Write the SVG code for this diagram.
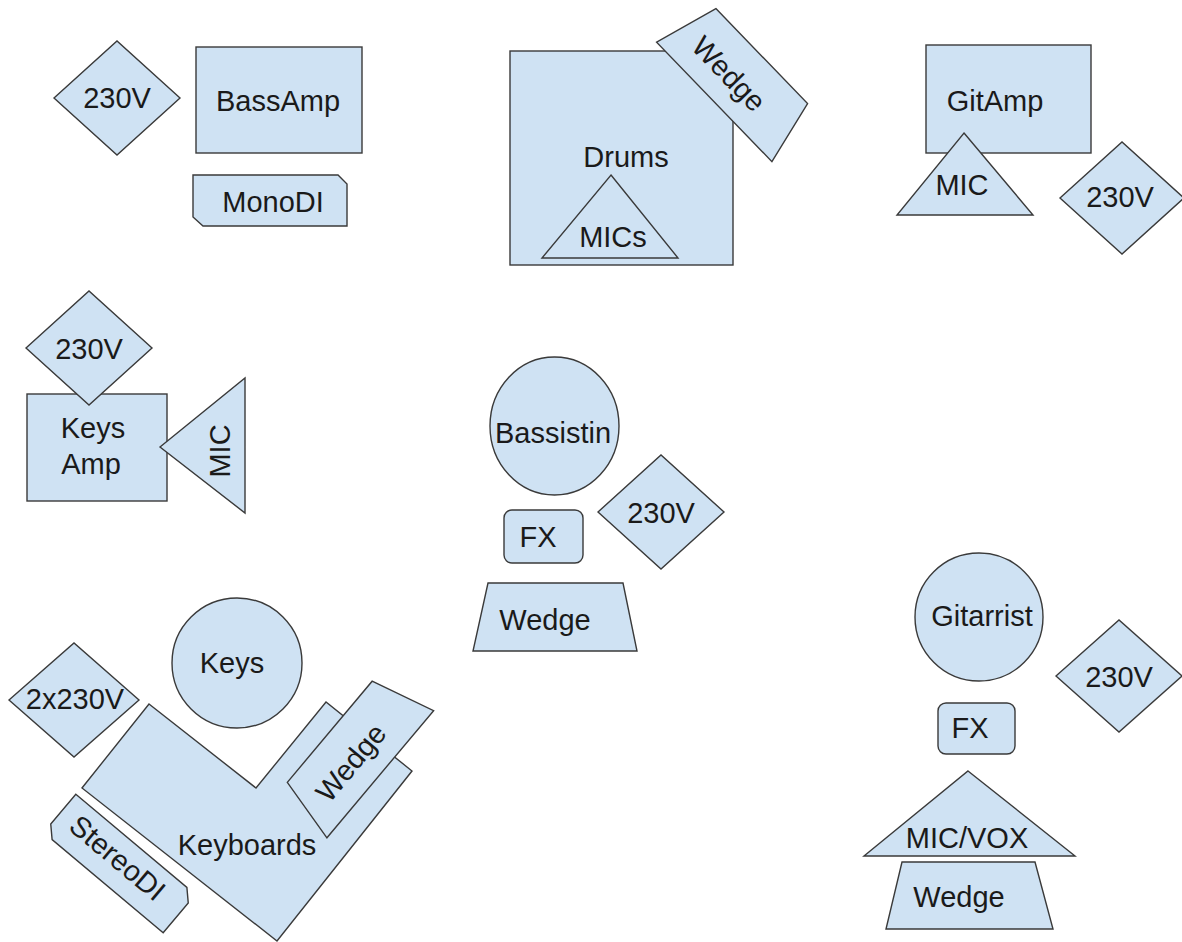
<svg xmlns="http://www.w3.org/2000/svg" width="1182" height="942" viewBox="0 0 1182 942">
<style>
.s{fill:#cfe2f3;stroke:#3a3a3a;stroke-width:1.4;stroke-linejoin:miter}
.t{font-family:"Liberation Sans",Arial,sans-serif;font-size:29px;fill:#1a1a1a;text-anchor:middle}
</style>
<rect x="0" y="0" width="1182" height="942" fill="#ffffff"/>
<g id="connectors"/>
<!-- Bass amp area -->
<g id="bassamp-230v"><polygon class="s" points="54,98 117,41 180,98 117,155"/><text class="t" x="117" y="108">230V</text></g>
<g id="bassamp"><rect class="s" x="196" y="47" width="166" height="106"/><text class="t" x="278" y="111">BassAmp</text></g>
<g id="monodi"><polygon class="s" points="193,175 338,175 347,184 347,226 203,226 193,217"/><text class="t" x="273" y="212">MonoDI</text></g>
<!-- Drums -->
<g id="drums"><rect class="s" x="510" y="51" width="223" height="214"/><text class="t" x="626" y="167">Drums</text></g>
<g id="drums-mics"><polygon class="s" points="611,175 678,258 542,258"/><text class="t" x="613" y="247">MICs</text></g>
<g id="drums-wedge" transform="translate(738,79) rotate(46)"><polygon class="s" points="-66,-33 66,-33 83,33 -83,33"/><text class="t" x="-10" y="13">Wedge</text></g>
<!-- Git amp -->
<g id="gitamp"><rect class="s" x="926" y="45" width="165" height="108"/><text class="t" x="995" y="111">GitAmp</text></g>
<g id="gitamp-mic"><polygon class="s" points="964,133 1033,215 897,215"/><text class="t" x="962" y="195">MIC</text></g>
<g id="gitamp-230v"><polygon class="s" points="1060,198 1122,142 1184,198 1122,254"/><text class="t" x="1120" y="207">230V</text></g>
<!-- Keys amp -->
<g id="keysamp"><rect class="s" x="27" y="394" width="140" height="107"/><text class="t" x="93" y="438">Keys</text><text class="t" x="91" y="474">Amp</text></g>
<g id="keysamp-230v"><polygon class="s" points="26,348 89,291 152,348 89,405"/><text class="t" x="89" y="359">230V</text></g>
<g id="keysamp-mic"><polygon class="s" points="160,447 245,378 245,513"/><text class="t" transform="translate(230,451) rotate(-90)" x="0" y="0">MIC</text></g>
<!-- Bassistin -->
<g id="bassistin"><ellipse class="s" cx="554.5" cy="426" rx="64.5" ry="69"/><text class="t" x="553" y="443">Bassistin</text></g>
<g id="bassistin-230v"><polygon class="s" points="598,512 661,455 724,512 661,569"/><text class="t" x="661" y="523">230V</text></g>
<g id="bassistin-fx"><rect class="s" x="504" y="510" width="79" height="53" rx="8"/><text class="t" x="538" y="547">FX</text></g>
<g id="bassistin-wedge"><polygon class="s" points="488,583 623,583 637,651 473,651"/><text class="t" x="545" y="630">Wedge</text></g>
<!-- Keys -->
<g id="keys"><circle class="s" cx="237" cy="663" r="65"/><text class="t" x="232" y="673">Keys</text></g>
<g id="keys-2x230v"><polygon class="s" points="9,700 74,643 139,700 74,757"/><text class="t" x="75" y="709">2x230V</text></g>
<g id="keyboards"><polygon class="s" points="149,704 256,788 326,702 412,771 277,941 82,788"/><text class="t" x="247" y="855">Keyboards</text></g>
<g id="keys-wedge" transform="translate(355,753) rotate(-50)"><polygon class="s" points="-66,-33 66,-33 83,33 -83,33"/><text class="t" x="-10" y="13">Wedge</text></g>
<g id="stereodi" transform="translate(119.5,863.5) rotate(40)"><polygon class="s" points="-78,-25 67,-25 78,-14 78,25 -67,25 -78,14"/><text class="t" x="-5" y="7">StereoDI</text></g>
<!-- Gitarrist -->
<g id="gitarrist"><circle class="s" cx="979" cy="617" r="64"/><text class="t" x="982" y="626">Gitarrist</text></g>
<g id="gitarrist-230v"><polygon class="s" points="1056,676 1119,620 1182,676 1119,732"/><text class="t" x="1119" y="687">230V</text></g>
<g id="gitarrist-fx"><rect class="s" x="938" y="703" width="77" height="51" rx="8"/><text class="t" x="970" y="738">FX</text></g>
<g id="gitarrist-micvox"><polygon class="s" points="968,771 1075,856 864,856"/><text class="t" x="967" y="848">MIC/VOX</text></g>
<g id="gitarrist-wedge"><polygon class="s" points="902,862 1035,862 1053,929 886,929"/><text class="t" x="959" y="907">Wedge</text></g>
</svg>
